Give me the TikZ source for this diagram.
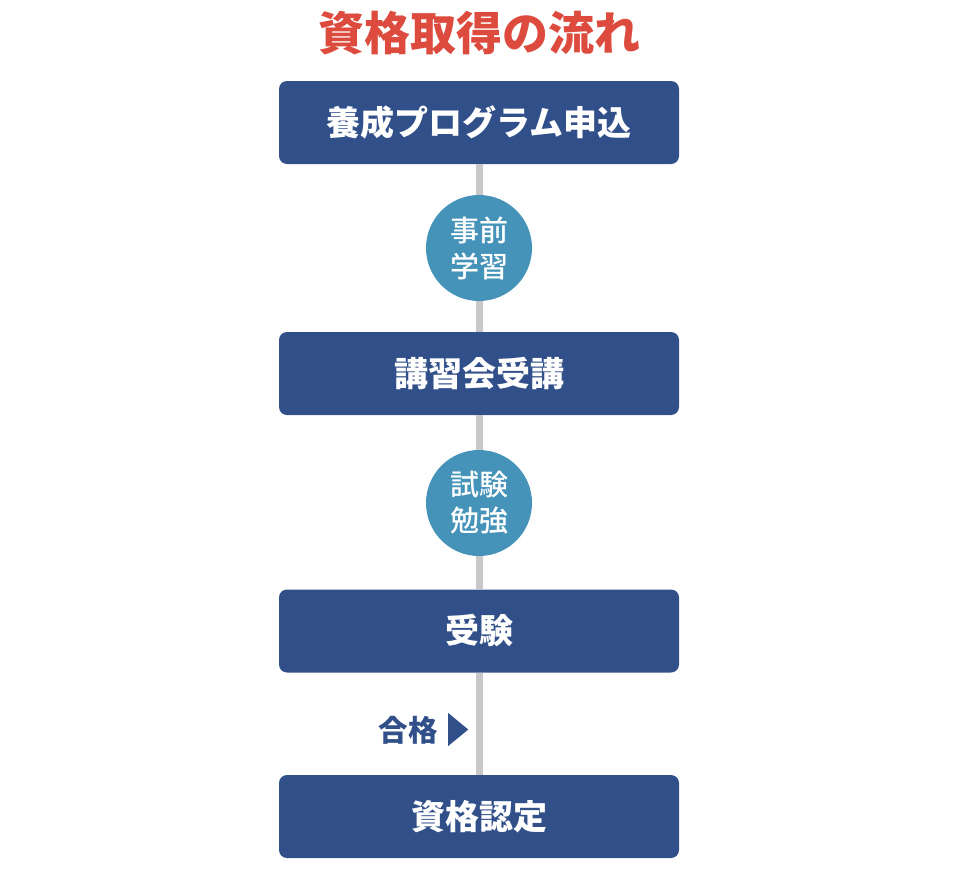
\documentclass[tikz,border=0pt]{standalone}
\usepackage{fontspec}
\setmainfont{Noto Sans CJK JP}
\newfontfamily\ballfont{Noto Sans CJK JP Medium}
\usetikzlibrary{shapes.geometric}

\definecolor{boxblue}{HTML}{31508A}
\definecolor{ballblue}{HTML}{4593B9}
\definecolor{titlered}{HTML}{DD4B3E}
\definecolor{linegray}{HTML}{C8C8C8}

\tikzset{
  stepbox/.style={fill=boxblue, rounded corners=8pt, minimum width=400pt,
    minimum height=83pt, inner sep=0pt, text=white,
    font=\bfseries\fontsize{34}{40}\selectfont},
  studyball/.style={circle, fill=ballblue, minimum size=106pt, inner sep=0pt,
    text=white, align=center, font=\ballfont\fontsize{29}{36}\selectfont},
  trackline/.style={draw=linegray, line width=7pt}
}

\begin{document}
\begin{tikzpicture}[x=1pt, y=-1pt]
  \useasboundingbox (0,0) rectangle (960,870);
  \node[text=titlered, font=\bfseries\fontsize{46}{50}\selectfont] (title) at (479,33) {資格取得の流れ};
  \node[stepbox] (apply) at (479,122.5) {養成プログラム申込};
  \node[studyball] (prep) at (479,248) {事前\\学習};
  \node[stepbox] (course) at (479,373.5) {講習会受講};
  \node[studyball] (study) at (479,503) {試験\\勉強};
  \node[stepbox] (exam) at (479,631) {受験};
  \node[stepbox] (cert) at (479,816.5) {資格認定};
  \draw[trackline] (apply) -- (prep);
  \draw[trackline] (prep) -- (course);
  \draw[trackline] (course) -- (study);
  \draw[trackline] (study) -- (exam);
  \draw[trackline] (exam) -- (cert);
  % pass label
  \node[text=boxblue, font=\bfseries\fontsize{29.5}{34}\selectfont] (pass) at (408,730) {合格};
  \node[isosceles triangle, isosceles triangle apex angle=79, fill=boxblue,
    minimum height=20pt, inner sep=0pt] (passmark) at (456,729.5) {};
\end{tikzpicture}
\end{document}
